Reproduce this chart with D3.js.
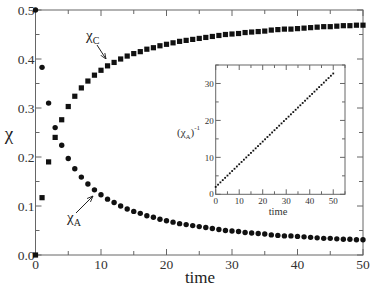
<!DOCTYPE html>
<html><head><meta charset="utf-8">
<script src="https://cdn.jsdelivr.net/npm/d3@7"></script>
<style>body{margin:0;background:#fff}svg{display:block}</style>
</head><body><svg id="c" width="374" height="289"></svg>
<script>
const times = d3.range(0, 51);
const chiA = [0.500,0.383,0.310,0.260,0.224,0.197,0.176,0.159,0.145,0.133,0.123,0.114,0.107,0.100,0.094,0.089,0.085,0.080,0.077,0.073,0.070,0.067,0.064,0.062,0.060,0.058,0.056,0.054,0.052,0.050,0.049,0.048,0.046,0.045,0.044,0.043,0.041,0.040,0.039,0.039,0.038,0.037,0.036,0.035,0.034,0.034,0.033,0.032,0.032,0.031,0.031];
const chiC = [0.000,0.117,0.190,0.240,0.276,0.303,0.324,0.341,0.355,0.367,0.377,0.386,0.393,0.400,0.406,0.411,0.415,0.420,0.423,0.427,0.430,0.433,0.436,0.438,0.440,0.442,0.444,0.446,0.448,0.450,0.451,0.452,0.454,0.455,0.456,0.457,0.459,0.460,0.461,0.461,0.462,0.463,0.464,0.465,0.466,0.466,0.467,0.468,0.468,0.469,0.469];
const invChiA = [2.00,2.61,3.23,3.84,4.46,5.07,5.68,6.30,6.91,7.53,8.14,8.75,9.37,9.98,10.60,11.21,11.82,12.44,13.05,13.67,14.28,14.89,15.51,16.12,16.74,17.35,17.96,18.58,19.19,19.81,20.42,21.03,21.65,22.26,22.88,23.49,24.10,24.72,25.33,25.95,26.56,27.17,27.79,28.40,29.02,29.63,30.24,30.86,31.47,32.09,32.70];
const xTicksMain = [0,10,20,30,40,50];
const yTicksMain = [0.0,0.1,0.2,0.3,0.4,0.5];
const xTicksInset = [0,10,20,30,40,50];
const yTicksInset = [0,10,20,30];

const SERIF = "'Liberation Serif', 'Times New Roman', 'DejaVu Serif', serif";
const svg = d3.select("#c");
const axisColor = "#666";

function frame(g, x, y, majX, minX, majY, minY, fs, yfmt, lab){
  const [x0,x1] = x.range(), [y0,y1] = y.range();
  g.append("rect").attr("x",x0).attr("y",y1).attr("width",x1-x0).attr("height",y0-y1)
    .attr("fill","none").attr("stroke",axisColor).attr("stroke-width",1);
  const L = lab.major, l = lab.minor;
  const tk = g.append("g").attr("stroke",axisColor).attr("stroke-width",1);
  const drawX = (vals,len)=>vals.forEach(v=>{const px=x(v);
    tk.append("line").attr("x1",px).attr("x2",px).attr("y1",y0).attr("y2",y0-len);
    tk.append("line").attr("x1",px).attr("x2",px).attr("y1",y1).attr("y2",y1+len);});
  const drawY = (vals,len)=>vals.forEach(v=>{const py=y(v);
    tk.append("line").attr("y1",py).attr("y2",py).attr("x1",x0).attr("x2",x0+len);
    tk.append("line").attr("y1",py).attr("y2",py).attr("x1",x1).attr("x2",x1-len);});
  drawX(majX,L); drawX(minX,l); drawY(majY,L); drawY(minY,l);
  g.selectAll(".xl").data(majX).join("text").style("font-family",SERIF).attr("x",d=>x(d)).attr("y",y0+lab.xdy)
    .attr("text-anchor","middle").attr("font-size",fs).attr("fill","#333").text(d=>d);
  g.selectAll(".yl").data(majY).join("text").style("font-family",SERIF).attr("x",x0+lab.ydx).attr("y",d=>y(d)+fs*0.35)
    .attr("text-anchor","end").attr("font-size",fs).attr("fill","#333").text(yfmt);
}

// main
const x = d3.scaleLinear().domain([0,50]).range([35.5,363]);
const y = d3.scaleLinear().domain([0,0.5]).range([255,10]);
const gm = svg.append("g");
frame(gm, x, y, xTicksMain, [5,15,25,35,45], yTicksMain, [0.05,0.15,0.25,0.35,0.45], 13.5,
  d=>d3.format(".1f")(d), {major:6,minor:4,xdy:14,ydx:-1});

gm.append("text").style("font-family",SERIF).attr("x",9).attr("y",140).attr("text-anchor","middle").attr("font-size",19).attr("fill","#222").text("χ");
gm.append("text").style("font-family",SERIF).attr("x",200).attr("y",283).attr("text-anchor","middle").attr("font-size",17).attr("fill","#222").text("time");

gm.selectAll(".sq").data(times).join("rect")
  .attr("x",(d,i)=>x(d)-2.6).attr("y",(d,i)=>y(chiC[i])-2.6).attr("width",5.2).attr("height",5.2).attr("fill","#111");
gm.selectAll(".dt").data(times).join("circle")
  .attr("cx",d=>x(d)).attr("cy",(d,i)=>y(chiA[i])).attr("r",2.7).attr("fill","#111");

// annotations
const defs = svg.append("defs");
defs.append("marker").attr("id","ah").attr("viewBox","0 0 10 10").attr("refX",10).attr("refY",5)
  .attr("markerWidth",6).attr("markerHeight",6).attr("orient","auto")
  .append("path").attr("d","M0,1 L10,5 L0,9").attr("fill","none").attr("stroke","#222").attr("stroke-width",1.5);
function note(tx,ty,sub,ax1,ay1,ax2,ay2){
  const t = gm.append("text").style("font-family",SERIF).attr("x",tx).attr("y",ty).attr("font-size",15).attr("fill","#222");
  t.append("tspan").text("χ");
  t.append("tspan").attr("dy",4).attr("font-size",10).text(sub);
  gm.append("line").attr("x1",ax1).attr("y1",ay1).attr("x2",ax2).attr("y2",ay2)
    .attr("stroke","#222").attr("stroke-width",1).attr("marker-end","url(#ah)");
}
note(86,40,"C",97,45,106,59);
note(67,222,"A",76,213,93,196);

// inset
const xi = d3.scaleLinear().domain([0,55]).range([215.7,345]);
const yi = d3.scaleLinear().domain([0,35]).range([194.3,65]);
const gi = svg.append("g");
gi.append("rect").attr("x",215.7).attr("y",65).attr("width",345-215.7).attr("height",194.3-65).attr("fill","#fff");
frame(gi, xi, yi, xTicksInset, [5,15,25,35,45,55], yTicksInset, [5,15,25,35], 9,
  d=>d, {major:5,minor:3,xdy:9.5,ydx:-2});
gi.append("text").style("font-family",SERIF).attr("x",278).attr("y",215).attr("text-anchor","middle").attr("font-size",10.5).attr("fill","#333").text("time");
const il = gi.append("text").style("font-family",SERIF).attr("x",177).attr("y",136).attr("font-size",11).attr("fill","#333");
il.append("tspan").text("(χ");
il.append("tspan").attr("dy",3).attr("font-size",7).text("A");
il.append("tspan").attr("dy",-3).text(")");
il.append("tspan").attr("dy",-6).attr("font-size",7).text("-1");
gi.selectAll(".ip").data(times).join("rect")
  .attr("x",d=>xi(d)-0.9).attr("y",(d,i)=>yi(invChiA[i])-0.9).attr("width",1.8).attr("height",1.8).attr("fill","#111");
</script></body></html>
